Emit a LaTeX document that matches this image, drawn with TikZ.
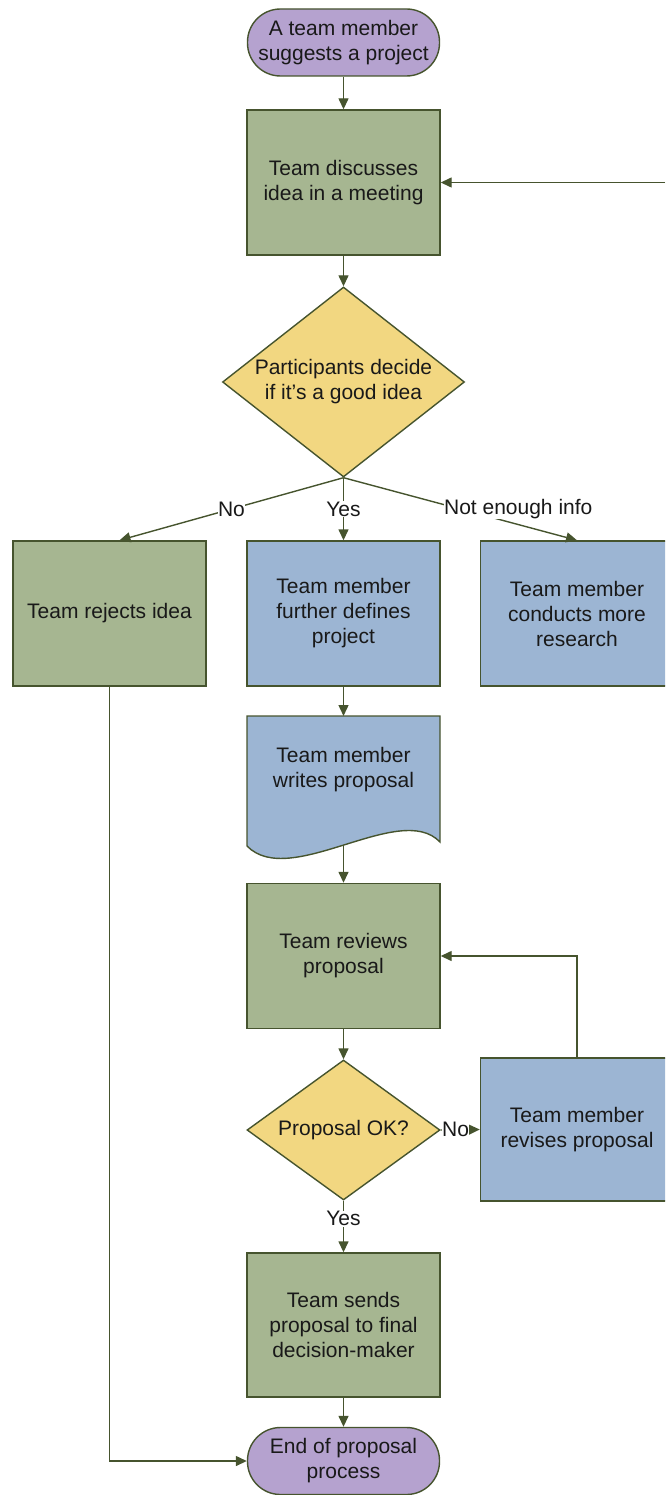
\documentclass[tikz,border=0pt]{standalone}
\usepackage{fontspec}
\setmainfont{Liberation Sans}
\usetikzlibrary{shapes.geometric,arrows.meta,positioning}

\definecolor{termfill}{RGB}{181,162,207}
\definecolor{greenfill}{RGB}{166,182,145}
\definecolor{bluefill}{RGB}{156,181,211}
\definecolor{yellowfill}{RGB}{242,215,129}
\definecolor{edgecol}{RGB}{70,84,46}

\tikzset{
  base/.style={draw=edgecol, line width=1.4pt, text=black!90, align=center,
    inner sep=0pt, font=\fontsize{21}{25}\selectfont},
  terminal/.style={base, fill=termfill, rounded corners=33pt,
    minimum width=192pt, minimum height=67pt},
  greenbox/.style={base, fill=greenfill, minimum width=193pt, minimum height=145pt},
  bluebox/.style={base, fill=bluefill, minimum width=193pt, minimum height=145pt},
  decision/.style={base, fill=yellowfill, diamond, aspect=1.3},
  flow/.style={draw=edgecol, line width=1.4pt, -{Triangle[length=11pt,width=10pt]}},
  lbl/.style={fill=white, inner sep=0.5pt, text=black!90, font=\fontsize{21}{25}\selectfont}
}

\begin{document}
\begin{tikzpicture}[x=1pt, y=-1pt]
\clip (0,0) rectangle (665,1495);

\node[terminal] (start) at (343.5,42.5) {A team member\\suggests a project};
\node[greenbox] (discuss) at (343.5,182.5) {Team discusses\\idea in a meeting};
\node[decision, minimum width=242pt, minimum height=190pt] (idea) at (343.5,382) {Participants decide\\if it's a good idea};

\node[greenbox] (rejects) at (109.5,613.5) {Team rejects idea};
\node[bluebox] (define) at (343.5,613.5) {Team member\\further defines\\project};
\node[bluebox] (research) at (577,613.5) {Team member\\conducts more\\research};

% document shape with wavy bottom
\filldraw[fill=bluefill, draw=edgecol, line width=1.4pt]
  (247,716) -- (440,716) -- (440,842) .. controls (400,800) and (290,890) .. (247,846) -- cycle;
\node[base, draw=none] (writes) at (343.5,770) {Team member\\writes proposal};
\coordinate (writestop) at (343.5,716);
\coordinate (writesbot) at (343.5,846);

\node[greenbox] (review) at (343.5,956) {Team reviews\\proposal};
\node[decision, minimum width=193pt, minimum height=140pt] (ok) at (343.5,1130) {Proposal OK?};
\node[bluebox, minimum height=143pt] (revise) at (577,1129.5) {Team member\\revises proposal};
\node[greenbox, minimum height=144pt] (send) at (343.5,1325) {Team sends\\proposal to final\\decision-maker};
\node[terminal] (finish) at (343.5,1461) {End of proposal\\process};

\coordinate (entry) at (665,182.5);

\draw[flow] (start) -- (discuss);
\draw[flow] (entry) -- (discuss.east);
\draw[flow] (discuss) -- (idea);
\draw[flow] (idea.south) -- node[lbl]{No} ([xshift=10pt]rejects.north);
\draw[flow] (idea.south) -- node[lbl]{Yes} (define);
\draw[flow] (idea.south) -- node[lbl, xshift=58pt]{Not enough info} (research.north);
\draw[flow] (define) -- (writestop);
\draw[flow] (writesbot) -- (review);
\draw[flow] (review) -- (ok);
\draw[flow] (ok.east) -- node[lbl, pos=0.38]{No} (revise.west);
\draw[flow] (revise.north) |- (review.east);
\draw[flow] (ok) -- node[lbl, pos=0.35]{Yes} (send);
\draw[flow] (send) -- (finish);
\draw[flow] (rejects.south) |- (finish.west);
\end{tikzpicture}
\end{document}
